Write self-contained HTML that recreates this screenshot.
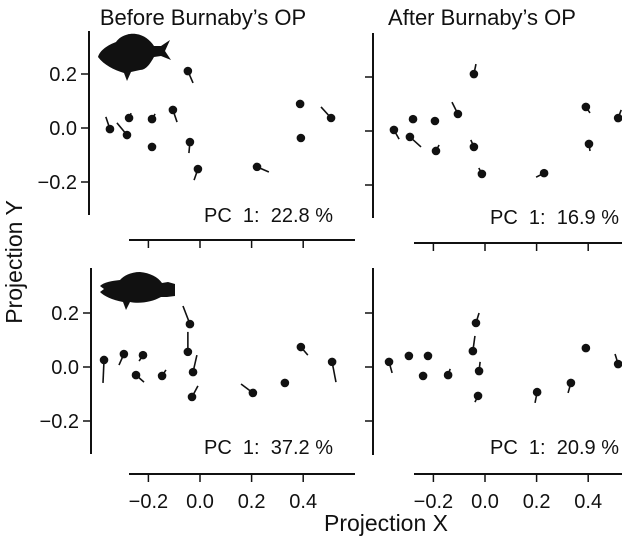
<!DOCTYPE html>
<html><head><meta charset="utf-8"><style>
body{margin:0;background:#fff}
svg text{font-family:"Liberation Sans",sans-serif;fill:#111}
</style></head><body>
<svg width="622" height="545" viewBox="0 0 622 545">
<g id="root"></g>
<text x="203" y="25" text-anchor="middle" font-size="22">Before Burnaby’s OP</text>
<text x="482" y="25" text-anchor="middle" font-size="22">After Burnaby’s OP</text>
<text x="0" y="0" transform="translate(22,262) rotate(-90)" text-anchor="middle" font-size="23">Projection Y</text>
<text x="386" y="531" text-anchor="middle" font-size="23">Projection X</text>
<path fill="#111" d="M98,57 C100,50 108,45 116,42 C120,36 128,33 136,34 C144,35 150,40 154,46 L161,46 L170,40 L165,51 L171,60 L161,56 L154,57 C150,64 146,70 140,70 L131,72 L127,81 L124,73 C114,70 104,65 98,57 Z"/>
<path fill="#111" d="M100,286 C104,282 112,281 120,280 C124,275 132,272 140,272 C150,273 158,277 162,283 L168,282 L175,284 L175,296 L167,297 L161,297 C152,302 140,304 130,302 L126,310 L123,302 C112,300 104,296 100,292 L104,289 Z"/>
</svg>
<script>
const tlX=[-0.349,-0.283,-0.275,-0.186,-0.186,-0.105,-0.047,-0.039,-0.008,0.221,0.388,0.391,0.508];
const tlY=[-0.004,-0.026,0.037,0.033,-0.070,0.067,0.211,-0.052,-0.152,-0.144,0.089,-0.037,0.037];
const tlX2=[-0.365,-0.322,-0.267,-0.174,-0.182,-0.089,-0.027,-0.043,-0.023,0.267,0.388,0.391,0.469];
const tlY2=[0.041,0.019,0.055,0.052,-0.063,0.022,0.167,-0.093,-0.193,-0.163,0.100,-0.030,0.078];
const trX=[-0.353,-0.291,-0.279,-0.194,-0.190,-0.105,-0.043,-0.043,-0.012,0.229,0.391,0.403,0.516];
const trY=[0.004,-0.022,0.044,0.037,-0.074,0.063,0.211,-0.059,-0.159,-0.156,0.089,-0.048,0.048];
const trX2=[-0.333,-0.248,-0.279,-0.194,-0.178,-0.128,-0.035,-0.055,-0.024,0.198,0.407,0.407,0.528];
const trY2=[-0.030,-0.059,0.050,0.041,-0.052,0.107,0.248,-0.033,-0.137,-0.171,0.067,-0.074,0.078];
const blX=[-0.372,-0.295,-0.221,-0.248,-0.147,-0.047,-0.039,-0.027,-0.031,0.205,0.329,0.391,0.512];
const blY=[0.026,0.048,0.044,-0.030,-0.033,0.056,0.159,-0.019,-0.111,-0.096,-0.059,0.074,0.019];
const blX2=[-0.376,-0.314,-0.236,-0.217,-0.132,-0.047,-0.066,-0.012,-0.008,0.159,0.314,0.418,0.527];
const blY2=[-0.059,0.007,0.022,-0.056,-0.011,0.130,0.226,0.044,-0.070,-0.063,-0.056,0.044,-0.056];
const brX=[-0.372,-0.295,-0.221,-0.240,-0.143,-0.047,-0.035,-0.023,-0.027,0.202,0.333,0.391,0.516];
const brY=[0.019,0.041,0.041,-0.033,-0.030,0.059,0.163,-0.015,-0.107,-0.093,-0.059,0.070,0.011];
const brX2=[-0.360,-0.295,-0.221,-0.240,-0.135,-0.039,-0.023,-0.019,-0.039,0.194,0.322,0.391,0.504];
const brY2=[-0.022,0.041,0.041,-0.033,-0.007,0.115,0.200,0.019,-0.130,-0.133,-0.096,0.070,0.048];
const yTicks=[0.2,0.0,-0.2];
const yTickLabels=["0.2","0.0","\u22120.2"];
const xTicks=[-0.2,0.0,0.2,0.4];
const xTickLabels=["\u22120.2","0.0","0.2","0.4"];
const pcLabels=["PC  1:  22.8 %","PC  1:  16.9 %","PC  1:  37.2 %","PC  1:  20.9 %"];

const NS="http://www.w3.org/2000/svg";
const root=document.getElementById('root');
function mk(t,a,p){const e=document.createElementNS(NS,t);for(const k in a)e.setAttribute(k,a[k]);(p||root).appendChild(e);return e;}
const panels=[
 {name:'before-top',X:tlX,Y:tlY,X2:tlX2,Y2:tlY2,x0:200,y0:128,yAx:89,yTop:31,yBot:215,xAxY:240,xL:129,xR:355,labels:false,pcX:333,pcY:222},
 {name:'after-top',X:trX,Y:trY,X2:trX2,Y2:trY2,x0:485,y0:131,yAx:373,yTop:33,yBot:218,xAxY:243,xL:414,xR:622,labels:false,pcX:619,pcY:224,noYLab:true},
 {name:'before-bottom',X:blX,Y:blY,X2:blX2,Y2:blY2,x0:200,y0:367,yAx:91,yTop:268,yBot:454,xAxY:474,xL:129,xR:355,labels:true,pcX:333,pcY:454},
 {name:'after-bottom',X:brX,Y:brY,X2:brX2,Y2:brY2,x0:485,y0:367,yAx:373,yTop:268,yBot:455,xAxY:474,xL:414,xR:622,labels:true,pcX:619,pcY:454,noYLab:true}
];
panels.forEach((p,pi)=>{
 const sx=v=>p.x0+v*258, sy=v=>p.y0-v*270;
 const g=mk('g',{});
 
 
 const ya=mk('line',{x1:p.yAx,x2:p.yAx,y1:p.yTop,y2:p.yBot,stroke:'#111','stroke-width':2},g);
 
 
 yTicks.forEach((t,i)=>{
  mk('line',{x1:p.yAx-8,x2:p.yAx,y1:sy(t),y2:sy(t),stroke:'#111','stroke-width':1.5},g);
  if(!p.noYLab){const tx=mk('text',{x:p.yAx-12,y:sy(t)+7,'text-anchor':'end','font-size':20},g);tx.textContent=yTickLabels[i];
   
   }
 });
 const xa=mk('line',{x1:p.xL,x2:p.xR,y1:p.xAxY,y2:p.xAxY,stroke:'#111','stroke-width':2},g);
 
 
 xTicks.forEach((t,i)=>{
  mk('line',{x1:sx(t),x2:sx(t),y1:p.xAxY,y2:p.xAxY+8,stroke:'#111','stroke-width':1.5},g);
  if(p.labels){const tx=mk('text',{x:sx(t),y:p.xAxY+34,'text-anchor':'middle','font-size':20},g);tx.textContent=xTickLabels[i];
   
   }
 });
 p.X.forEach((v,i)=>{
  const l=mk('line',{x1:sx(v),y1:sy(p.Y[i]),x2:sx(p.X2[i]),y2:sy(p.Y2[i]),stroke:'#111','stroke-width':1.6},g);
  
  
  const c=mk('circle',{cx:sx(v),cy:sy(p.Y[i]),r:4.3,fill:'#111'},g);
  
  
 });
 const pc=mk('text',{x:p.pcX,y:p.pcY,'text-anchor':'end','font-size':20},g);
 pc.setAttribute('style','white-space:pre');
 pc.textContent=pcLabels[pi];
 
 
});
</script>
</body></html>
